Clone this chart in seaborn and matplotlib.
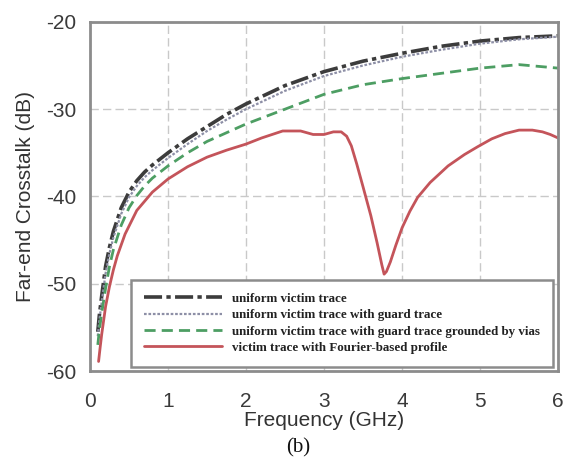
import numpy as np
import pandas as pd
import matplotlib
matplotlib.use("Agg")
import matplotlib.pyplot as plt
import seaborn as sns

# Frequency samples (GHz) and far-end crosstalk (dB) for each trace layout
freq_uniform = [0.1, 0.12, 0.15, 0.2, 0.25, 0.3, 0.4, 0.5, 0.6, 0.7, 0.8, 1.0,
                1.25, 1.5, 1.75, 2.0, 2.5, 3.0, 3.5, 4.0, 4.5, 5.0, 5.5, 6.0]
fext_uniform = [-55.5, -53.6, -51.4, -48.0, -45.8, -44.0, -41.3, -39.5, -38.2,
                -37.2, -36.4, -35.0, -33.4, -32.0, -30.6, -29.4, -27.3, -25.7,
                -24.5, -23.6, -22.8, -22.2, -21.8, -21.6]
fext_guard = [-56.0, -54.2, -52.1, -48.8, -46.5, -44.7, -42.0, -40.1, -38.8,
              -37.8, -37.0, -35.6, -34.0, -32.5, -31.2, -30.0, -27.9, -26.2,
              -25.0, -24.0, -23.2, -22.5, -22.0, -21.7]
fext_guard_vias = [-57.0, -55.3, -53.4, -50.5, -48.0, -46.1, -43.3, -41.3,
                   -39.9, -38.8, -37.9, -36.5, -35.0, -33.7, -32.7, -31.7,
                   -30.0, -28.3, -27.2, -26.5, -25.9, -25.3, -24.9, -25.3]

freq_fourier = [0.11, 0.13, 0.15, 0.2, 0.25, 0.3, 0.35, 0.45, 0.6, 0.8, 1.0,
                1.25, 1.5, 1.75, 2.0, 2.2, 2.47, 2.7, 2.86, 3.0, 3.12, 3.22,
                3.29, 3.35, 3.42, 3.5, 3.6, 3.68, 3.74, 3.77, 3.8, 3.85, 3.92,
                4.0, 4.1, 4.2, 4.36, 4.59, 4.8, 4.97, 5.15, 5.32, 5.5, 5.67,
                5.8, 5.9, 6.0]
fext_fourier = [-58.9, -57.3, -55.8, -52.6, -50.3, -48.4, -46.8, -44.3, -41.6,
                -39.5, -38.0, -36.6, -35.5, -34.7, -34.0, -33.3, -32.5, -32.5,
                -32.9, -32.9, -32.6, -32.6, -33.1, -34.2, -36.3, -38.9, -42.2,
                -45.3, -47.8, -48.9, -48.6, -47.5, -45.6, -43.6, -41.7, -40.1,
                -38.4, -36.5, -35.2, -34.3, -33.4, -32.8, -32.4, -32.4, -32.6,
                -32.9, -33.3]

labels = ["uniform victim trace",
          "uniform victim trace with guard trace",
          "uniform victim trace with guard trace grounded by vias",
          "victim trace with Fourier-based profile"]
x_ticks = [0, 1, 2, 3, 4, 5, 6]
y_ticks = [-60, -50, -40, -30, -20]

sns.set_style("white")
plt.rcParams["font.family"] = ["Liberation Sans", "DejaVu Sans"]

fig = plt.figure(figsize=(5.66, 4.65), dpi=100)
ax = fig.add_axes([0.159, 0.202, 0.827, 0.751])

styles = [
    dict(color="#3c3c3c", lw=2.6, dashes=(5, 1.2, 1.2, 1.2)),
    dict(color="#8d8fa6", lw=1.6, dashes=(1.2, 0.8)),
    dict(color="#4d9e63", lw=2.0, dashes=(4, 2.2)),
    dict(color="#c4545a", lw=2.0, dashes=None),
]
series = [
    (freq_uniform, fext_uniform),
    (freq_uniform, fext_guard),
    (freq_uniform, fext_guard_vias),
    (freq_fourier, fext_fourier),
]

for (fx, fy), lab, st in zip(series, labels, styles):
    df = pd.DataFrame({"Frequency": fx, "FEXT": fy})
    sns.lineplot(data=df, x="Frequency", y="FEXT", ax=ax, label=lab,
                 color=st["color"], linewidth=st["lw"], sort=False)
    line = ax.get_lines()[-1]
    line.set_solid_joinstyle("round")
    line.set_dash_joinstyle("round")
    if st["dashes"] is not None:
        line.set_dashes(st["dashes"])

ax.set_xlim(0, 6)
ax.set_ylim(-60, -20)
ax.set_xticks(x_ticks)
ax.set_yticks(y_ticks)
ax.set_xticklabels([str(v) for v in x_ticks])
ax.set_yticklabels([str(v) for v in y_ticks])
ax.tick_params(axis="both", labelsize=15, colors="#555555", labelcolor="#3a3a3a",
               direction="in", length=4, width=1.2)
ax.tick_params(axis="x", pad=15)
ax.tick_params(axis="y", pad=10)
ax.grid(True, color="#c9c9c9", linestyle=(0, (6, 3)), linewidth=1.0)
for sp in ax.spines.values():
    sp.set_color("#8c8c8c")
    sp.set_linewidth(2.0)

ax.set_xlabel("Frequency (GHz)", fontsize=15, color="#333333", labelpad=0)
ax.set_ylabel("Far-end Crosstalk (dB)", fontsize=15, color="#333333", labelpad=8)

leg = ax.legend(loc="lower right", bbox_to_anchor=(0.99, 0.012),
                prop=dict(family=["Liberation Serif", "DejaVu Serif"],
                          weight="bold", size=9.4),
                frameon=True, fancybox=False, framealpha=1.0,
                edgecolor="#8c8c8c", handlelength=6.0, handletextpad=0.8,
                labelspacing=0.32, borderpad=1.0, borderaxespad=0.0)
leg.get_frame().set_linewidth(1.8)
for t in leg.get_texts():
    t.set_color("#222222")

fig.text(0.527, 0.027, "(b)", fontsize=15,
         family=["Liberation Serif", "DejaVu Serif"], ha="center", color="#111111")

fig.savefig("out.png", dpi=100)
